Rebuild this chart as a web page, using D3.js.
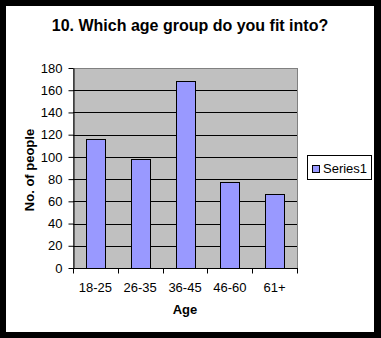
<!DOCTYPE html>
<html>
<head>
<meta charset="utf-8">
<script src="https://cdn.jsdelivr.net/npm/d3@7"></script>
<style>
  html, body { margin: 0; padding: 0; background: #000; }
  svg { display: block; font-family: "Liberation Sans", Arial, sans-serif; }
</style>
</head>
<body>
<div id="chart-container"></div>
<script>
const categories = ["18-25", "26-35", "36-45", "46-60", "61+"];
const series1 = [116, 98, 168, 77, 67];
const yTicks = [0, 20, 40, 60, 80, 100, 120, 140, 160, 180];
const seriesName = "Series1";

const width = 381;
const height = 338;
const plot = { left: 73, top: 68, right: 297, bottom: 268 };

const svg = d3.select("#chart-container")
  .append("svg")
  .attr("width", width)
  .attr("height", height);

// black frame + white chart area
svg.append("rect")
  .attr("width", width).attr("height", height)
  .attr("fill", "#000");
svg.append("rect")
  .attr("x", 6).attr("y", 6)
  .attr("width", 368).attr("height", 326)
  .attr("fill", "#fff");

const x = d3.scaleBand()
  .domain(categories)
  .range([plot.left, plot.right])
  .padding(0);

const y = d3.scaleLinear()
  .domain([0, 180])
  .range([plot.bottom, plot.top]);

// plot background
svg.append("rect")
  .attr("x", plot.left).attr("y", plot.top)
  .attr("width", plot.right - plot.left)
  .attr("height", plot.bottom - plot.top)
  .attr("fill", "#c0c0c0")
  .attr("stroke", "#808080")
  .attr("shape-rendering", "crispEdges");

// gridlines
svg.append("g")
  .selectAll("line")
  .data(yTicks.filter(d => d > 0 && d < 180))
  .enter()
  .append("line")
  .attr("x1", plot.left).attr("x2", plot.right)
  .attr("y1", d => Math.round(y(d)) + 0.5)
  .attr("y2", d => Math.round(y(d)) + 0.5)
  .attr("stroke", "#000");

// bars
const barW = x.bandwidth() * 0.42;
svg.append("g")
  .selectAll("rect")
  .data(series1)
  .enter()
  .append("rect")
  .attr("x", (d, i) => Math.round(x(categories[i]) + (x.bandwidth() - barW) / 2) + 0.5)
  .attr("y", d => Math.round(y(d)) + 0.5)
  .attr("width", Math.round(barW))
  .attr("height", d => Math.round(y(0)) - Math.round(y(d)))
  .attr("fill", "#9999ff")
  .attr("stroke", "#000");

// y axis
const yAxis = svg.append("g")
  .attr("transform", `translate(${plot.left + 0.5},0)`)
  .call(d3.axisLeft(y).tickValues(yTicks).tickSize(5).tickPadding(6).tickSizeOuter(0));
yAxis.select(".domain").attr("stroke", "#000");
yAxis.selectAll("line").attr("stroke", "#000");
yAxis.selectAll("text")
  .attr("font-size", 13)
  .attr("font-family", "Liberation Sans, Arial, sans-serif")
  .attr("fill", "#000");

// x axis: ticks at category boundaries
const xAxisG = svg.append("g")
  .attr("transform", `translate(0,${plot.bottom + 0.5})`);
xAxisG.append("line")
  .attr("x1", plot.left).attr("x2", plot.right + 1)
  .attr("stroke", "#000");
const bounds = categories.map(c => x(c)).concat([plot.right]);
xAxisG.selectAll(".tick")
  .data(bounds)
  .enter()
  .append("line")
  .attr("x1", d => Math.round(d) + 0.5)
  .attr("x2", d => Math.round(d) + 0.5)
  .attr("y1", 0).attr("y2", 5)
  .attr("stroke", "#000");
xAxisG.selectAll("text")
  .data(categories)
  .enter()
  .append("text")
  .attr("x", d => x(d) + x.bandwidth() / 2)
  .attr("y", 19)
  .attr("dy", "0.35em")
  .attr("text-anchor", "middle")
  .attr("font-size", 13)
  .text(d => d);

// titles
svg.append("text")
  .attr("x", 190).attr("y", 25)
  .attr("dy", "0.35em")
  .attr("text-anchor", "middle")
  .attr("font-size", 16)
  .attr("font-weight", "bold")
  .text("10. Which age group do you fit into?");

svg.append("text")
  .attr("x", 185).attr("y", 309)
  .attr("dy", "0.35em")
  .attr("text-anchor", "middle")
  .attr("font-size", 13)
  .attr("font-weight", "bold")
  .text("Age");

svg.append("text")
  .attr("transform", "translate(29,170) rotate(-90)")
  .attr("dy", "0.35em")
  .attr("text-anchor", "middle")
  .attr("font-size", 13)
  .attr("font-weight", "bold")
  .text("No. of people");

// legend
const legend = svg.append("g");
legend.append("rect")
  .attr("x", 307.5).attr("y", 155.5)
  .attr("width", 64).attr("height", 24)
  .attr("fill", "#fff")
  .attr("stroke", "#000");
legend.append("rect")
  .attr("x", 312.5).attr("y", 165.5)
  .attr("width", 7).attr("height", 7)
  .attr("fill", "#9999ff")
  .attr("stroke", "#000");
legend.append("text")
  .attr("x", 323).attr("y", 168)
  .attr("dy", "0.35em")
  .attr("font-size", 13)
  .text(seriesName);
</script>
</body>
</html>
